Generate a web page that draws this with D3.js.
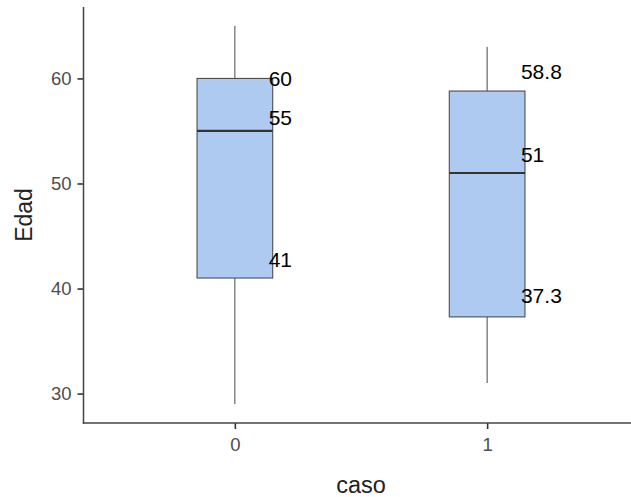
<!DOCTYPE html>
<html>
<head>
<meta charset="utf-8">
<script src="https://cdn.jsdelivr.net/npm/d3@7/dist/d3.min.js"></script>
<style>
  html, body { margin: 0; padding: 0; background: #fff; }
  svg { display: block; font-family: "Liberation Sans", Arial, sans-serif; }
</style>
</head>
<body>
<svg id="chart" width="631" height="497"></svg>
<script>
// Age (Edad) by case status (caso): boxplot summaries
const categories  = ["0", "1"];
const whiskerLow  = [29, 31];
const q1          = [41, 37.3];
const median      = [55, 51];
const q3          = [60, 58.8];
const whiskerHigh = [65, 63];
const yTicks      = [30, 40, 50, 60];
const xTitle = "caso";
const yTitle = "Edad";

const W = 631, H = 497;
const plot = { left: 83.5, right: 638.5, top: 7, bottom: 423 };

const svg = d3.select("#chart");

// y scale: data range plus 5% expansion on each side
const yMin = d3.min(whiskerLow), yMax = d3.max(whiskerHigh);
const pad = (yMax - yMin) * 0.05;
const y = d3.scaleLinear()
  .domain([yMin - pad, yMax + pad])
  .range([plot.bottom, plot.top]);

// discrete x scale with 0.6 category padding at the ends
const x = d3.scalePoint()
  .domain(categories)
  .range([plot.left, plot.right])
  .padding(0.6);
const step = x.step();
const boxW = step * 0.3;

const boxes = categories.map((c, i) => ({
  cat: c, lo: whiskerLow[i], q1: q1[i], med: median[i], q3: q3[i], hi: whiskerHigh[i]
}));

const g = svg.append("g");

// whiskers
g.selectAll("line.whisk-hi").data(boxes).join("line")
  .attr("x1", d => x(d.cat)).attr("x2", d => x(d.cat))
  .attr("y1", d => y(d.q3)).attr("y2", d => y(d.hi))
  .attr("stroke", "#4a4a4a").attr("stroke-width", 1);
g.selectAll("line.whisk-lo").data(boxes).join("line")
  .attr("x1", d => x(d.cat)).attr("x2", d => x(d.cat))
  .attr("y1", d => y(d.q1)).attr("y2", d => y(d.lo))
  .attr("stroke", "#4a4a4a").attr("stroke-width", 1);

// boxes
g.selectAll("rect.box").data(boxes).join("rect")
  .attr("x", d => x(d.cat) - boxW / 2)
  .attr("width", boxW)
  .attr("y", d => y(d.q3))
  .attr("height", d => y(d.q1) - y(d.q3))
  .attr("fill", "#AECAF1")
  .attr("stroke", "#4d4d4d").attr("stroke-width", 1.1);

// medians
g.selectAll("line.med").data(boxes).join("line")
  .attr("x1", d => x(d.cat) - boxW / 2).attr("x2", d => x(d.cat) + boxW / 2)
  .attr("y1", d => y(d.med)).attr("y2", d => y(d.med))
  .attr("stroke", "#333").attr("stroke-width", 2.2);

// value labels beside each box (q3, median, q1), shifted to avoid overlap
const labelShift = [[0, -13, -18], [-19, -18, -21]];
const labels = [];
boxes.forEach((b, i) => {
  [b.q3, b.med, b.q1].forEach((v, k) => {
    labels.push({ cat: b.cat, v, dy: labelShift[i][k] });
  });
});
g.selectAll("text.val").data(labels).join("text")
  .attr("x", d => x(d.cat) + step * 0.134)
  .attr("y", d => y(d.v) + d.dy)
  .attr("dy", "0.35em")
  .attr("font-size", 21)
  .attr("fill", "#000")
  .text(d => String(d.v));

// axes
const yAxis = d3.axisLeft(y).tickValues(yTicks).tickSize(6).tickPadding(6);
const xAxis = d3.axisBottom(x).tickSize(6).tickPadding(9);

const ya = svg.append("g").attr("transform", `translate(${plot.left},0)`).call(yAxis);
const xa = svg.append("g").attr("transform", `translate(0,${plot.bottom})`).call(xAxis);

[ya, xa].forEach(a => {
  a.select(".domain").remove();
  a.selectAll(".tick line").attr("stroke", "#333").attr("stroke-width", 1.6);
  a.selectAll(".tick text").attr("fill", "#4D4D4D").attr("font-size", 18.5)
    .attr("font-family", "'Liberation Sans', Arial, sans-serif");
});

// axis lines
svg.append("line")
  .attr("x1", plot.left).attr("x2", plot.left)
  .attr("y1", plot.top).attr("y2", plot.bottom + 0.75)
  .attr("stroke", "#444").attr("stroke-width", 1.5);
svg.append("line")
  .attr("x1", plot.left - 0.75).attr("x2", plot.right)
  .attr("y1", plot.bottom).attr("y2", plot.bottom)
  .attr("stroke", "#444").attr("stroke-width", 1.5);

// axis titles
svg.append("text")
  .attr("x", (plot.left + plot.right) / 2)
  .attr("y", 493)
  .attr("text-anchor", "middle")
  .attr("font-size", 23.5)
  .attr("fill", "#222")
  .text(xTitle);
svg.append("text")
  .attr("transform", `translate(32,${(plot.top + plot.bottom) / 2}) rotate(-90)`)
  .attr("text-anchor", "middle")
  .attr("font-size", 23)
  .attr("fill", "#222")
  .text(yTitle);
</script>
</body>
</html>
